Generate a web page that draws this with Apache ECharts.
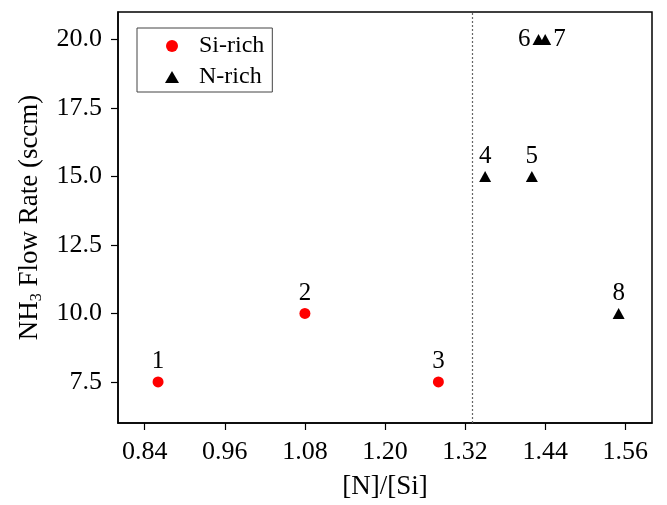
<!DOCTYPE html>
<html><head><meta charset="utf-8">
<script src="https://cdn.jsdelivr.net/npm/echarts@6/dist/echarts.min.js"></script>
<style>html,body{margin:0;padding:0;background:#fff}#c{width:667px;height:505px}</style>
</head><body><div id="c"></div>
<script>
const siX = [0.86, 1.08, 1.28];
const siY = [7.5, 10.0, 7.5];
const siLabels = ['1', '2', '3'];
const nX = [1.35, 1.42, 1.43, 1.44, 1.55];
const nY = [15.0, 15.0, 20.0, 20.0, 10.0];
const nLabels = ['4', '5', '6', '7', '8'];
const nLabelPos = ['top', 'top', 'left', 'right', 'top'];
const xTicks = [0.84, 0.96, 1.08, 1.20, 1.32, 1.44, 1.56];
const yTicks = [7.5, 10.0, 12.5, 15.0, 17.5, 20.0];
const boundaryX = 1.33;

const FONT = "'Liberation Serif','Times New Roman',serif";
const chart = echarts.init(document.getElementById('c'));
const siData = siX.map((x, i) => ({value: [x, siY[i]], label: {formatter: siLabels[i]}}));
const nData = nX.map((x, i) => ({value: [x, nY[i]], label: {formatter: nLabels[i], position: nLabelPos[i]}}));
chart.setOption({
  animation: false,
  grid: {left: 118, right: 15, top: 12, bottom: 81, show: true, borderColor: '#000', borderWidth: 1.5},
  legend: {
    left: 137, top: 28, orient: 'vertical',
    data: ['Si-rich', 'N-rich'],
    borderColor: '#444', borderWidth: 1, padding: [6, 8, 3, 28],
    itemWidth: 14, itemHeight: 12, itemGap: 7,
    textStyle: {fontFamily: FONT, fontSize: 24, color: '#000', padding: [0, 0, 0, 15]}
  },
  xAxis: {
    type: 'value', min: 0.80, max: 1.60,
    name: '[N]/[Si]', nameLocation: 'middle', nameGap: 50,
    nameTextStyle: {fontFamily: FONT, fontSize: 27, color: '#000'},
    axisLine: {lineStyle: {color: '#000', width: 1.5}},
    axisTick: {show: true, inside: false, length: 7, customValues: xTicks, lineStyle: {color: '#000', width: 1.2}},
    axisLabel: {customValues: xTicks, formatter: v => v.toFixed(2), margin: 16, fontFamily: FONT, fontSize: 26, color: '#000'},
    splitLine: {show: false}
  },
  yAxis: {
    type: 'value', min: 6, max: 21,
    name: '{a|NH}{s|3}{a| Flow Rate (sccm)}', nameLocation: 'middle', nameGap: 73, nameRotate: 90,
    nameTextStyle: {fontFamily: FONT, fontSize: 27, color: '#000',
      rich: {a: {fontFamily: FONT, fontSize: 27, color: '#000'}, s: {fontFamily: FONT, fontSize: 16, color: '#000', padding: [14, 0, 0, 0]}}},
    axisLine: {show: true, lineStyle: {color: '#000', width: 1.5}},
    axisTick: {show: true, inside: false, length: 7, customValues: yTicks, lineStyle: {color: '#000', width: 1.2}},
    axisLabel: {customValues: yTicks, formatter: v => v.toFixed(1), margin: 16, fontFamily: FONT, fontSize: 26, color: '#000'},
    splitLine: {show: false}
  },
  series: [
    {
      name: 'Si-rich', type: 'scatter', symbol: 'circle', symbolSize: 11,
      itemStyle: {color: '#ff0000', opacity: 1},
      label: {show: true, position: 'top', distance: 2, fontFamily: FONT, fontSize: 25, color: '#000'},
      data: siData,
      markLine: {
        silent: true, symbol: 'none', label: {show: false},
        lineStyle: {color: '#666', type: [2, 2], width: 1.2},
        data: [{xAxis: boundaryX}]
      }
    },
    {
      name: 'N-rich', type: 'scatter', symbol: 'triangle', symbolSize: [12, 11],
      itemStyle: {color: '#000', opacity: 1},
      label: {show: true, position: 'top', distance: 2, fontFamily: FONT, fontSize: 25, color: '#000'},
      data: nData
    }
  ]
});
</script></body></html>
